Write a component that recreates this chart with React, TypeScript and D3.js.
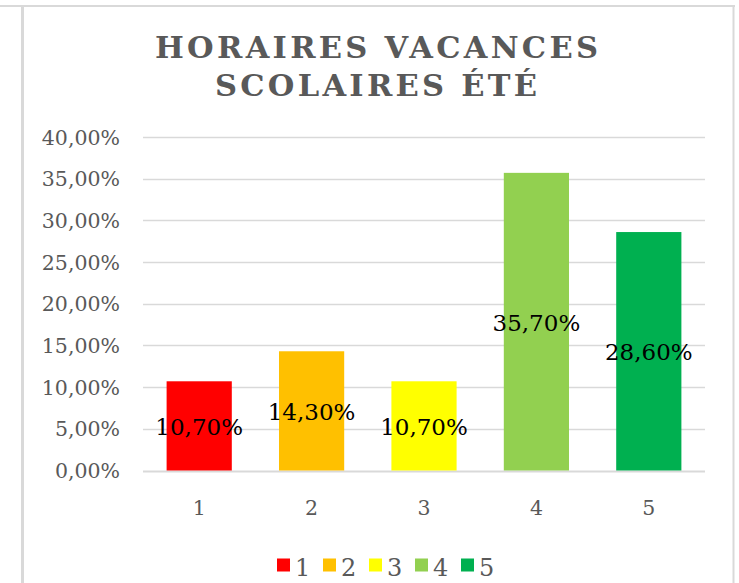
import React from "react";
import * as d3 from "d3";

const categories = ["1", "2", "3", "4", "5"];
const values = [0.107, 0.143, 0.107, 0.357, 0.286];
const colors = ["#FF0000", "#FFC000", "#FFFF00", "#92D050", "#00B050"];
const yTicks = [0, 0.05, 0.1, 0.15, 0.2, 0.25, 0.3, 0.35, 0.4];
const titleLines = ["HORAIRES VACANCES", "SCOLAIRES ÉTÉ"];

const W = 739;
const H = 583;
const FONT = "'DejaVu Serif', serif";

const fmt = (v: number) => (v * 100).toFixed(2).replace(".", ",") + "%";

export default function App() {
  const x = d3
    .scaleBand<string>()
    .domain(categories)
    .range([143, 705])
    .paddingInner(0.42)
    .paddingOuter(0.21);
  const y = d3.scaleLinear().domain([0, 0.4]).range([470.5, 137]);

  return (
    <svg
      width={W}
      height={H}
      style={{ position: "absolute", left: 0, top: 0, background: "#fff" }}
    >
      {/* frame */}
      <line x1={0} x2={735} y1={6} y2={6} stroke="#D9D9D9" strokeWidth={2} />
      <line x1={22.5} x2={22.5} y1={6} y2={H} stroke="#D9D9D9" strokeWidth={3} />
      <line x1={733.5} x2={733.5} y1={6} y2={H} stroke="#D9D9D9" strokeWidth={2} />

      {/* title */}
      <text
        x={376.5}
        y={57.5}
        textAnchor="middle"
        fontFamily={FONT}
        fontWeight="bold"
        fontSize={30.5}
        fill="#595959"
        textLength={443}
        lengthAdjust="spacing"
      >
        {titleLines[0]}
      </text>
      <text
        x={376}
        y={96}
        textAnchor="middle"
        fontFamily={FONT}
        fontWeight="bold"
        fontSize={30.5}
        fill="#595959"
        textLength={322}
        lengthAdjust="spacing"
      >
        {titleLines[1]}
      </text>

      {/* gridlines and y ticks */}
      {yTicks.map((t) => (
        <g key={t}>
          <line
            x1={143}
            x2={705}
            y1={Math.round(y(t)) + 0.5}
            y2={Math.round(y(t)) + 0.5}
            stroke="#D9D9D9"
            strokeWidth={t === 0 ? 2 : 1.5}
          />
          <text
            x={120}
            y={y(t) + 7.5}
            textAnchor="end"
            fontFamily={FONT}
            fontSize={20.5}
            fill="#595959"
          >
            {fmt(t)}
          </text>
        </g>
      ))}

      {/* bars */}
      {categories.map((c, i) => (
        <rect
          key={c}
          x={x(c)!}
          y={y(values[i])}
          width={x.bandwidth()}
          height={y(0) - y(values[i])}
          fill={colors[i]}
        />
      ))}

      {/* data labels */}
      {categories.map((c, i) => (
        <text
          key={"l" + c}
          x={x(c)! + x.bandwidth() / 2}
          y={(y(values[i]) + y(0)) / 2 + 9}
          textAnchor="middle"
          fontFamily={FONT}
          fontSize={23}
          fill="#000"
        >
          {fmt(values[i])}
        </text>
      ))}

      {/* x axis labels */}
      {categories.map((c) => (
        <text
          key={"x" + c}
          x={x(c)! + x.bandwidth() / 2}
          y={515}
          textAnchor="middle"
          fontFamily={FONT}
          fontSize={20.5}
          fill="#595959"
        >
          {c}
        </text>
      ))}

      {/* legend */}
      {categories.map((c, i) => (
        <g key={"lg" + c} transform={`translate(${277 + i * 46},0)`}>
          <rect x={0} y={558.5} width={13} height={13} fill={colors[i]} />
          <text x={18} y={576} fontFamily={FONT} fontSize={24} fill="#595959">
            {c}
          </text>
        </g>
      ))}
    </svg>
  );
}
